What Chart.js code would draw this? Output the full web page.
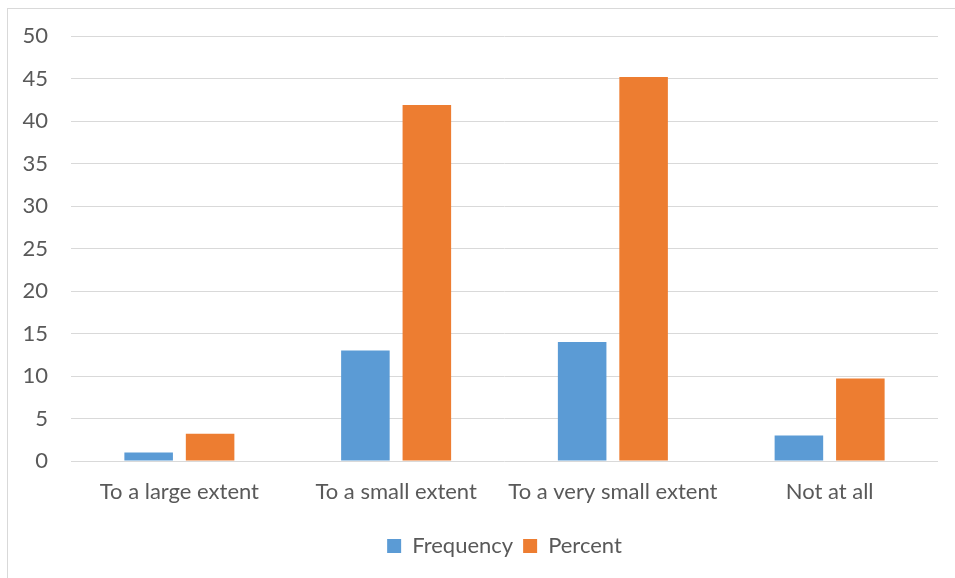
<!DOCTYPE html>
<html>
<head>
<meta charset="utf-8">
<script src="https://cdn.jsdelivr.net/npm/chart.js@4.4.1/dist/chart.umd.min.js"></script>
<style>
  html, body { margin: 0; padding: 0; background: #fff; }
  #wrap { position: absolute; left: 0; top: 0; width: 955px; height: 578px; }
  #frame { position: absolute; left: 7px; top: 8px; width: 960px; height: 580px;
           border-left: 1px solid #d9d9d9; border-top: 1px solid #d9d9d9; }
</style>
</head>
<body>
<div id="frame"></div>
<div id="wrap"><canvas id="chart" width="955" height="578"></canvas></div>
<script>
const categories = ['To a large extent', 'To a small extent', 'To a very small extent', 'Not at all'];
const frequency = [1, 13, 14, 3];
const percent = [3.2, 41.9, 45.2, 9.7];
const yMax = 50;
const yStep = 5;

const textColor = '#595959';
const gridColor = '#d9d9d9';
const font = { family: 'Lato, "Open Sans", sans-serif', size: 22 };

new Chart(document.getElementById('chart'), {
  type: 'bar',
  data: {
    labels: categories,
    datasets: [
      { label: 'Frequency', data: frequency, backgroundColor: '#5b9bd5' },
      { label: 'Percent', data: percent, backgroundColor: '#ed7d31' }
    ]
  },
  options: {
    responsive: false,
    animation: false,
    datasets: { bar: { categoryPercentage: 0.567, barPercentage: 0.79 } },
    layout: { padding: { left: 0, right: 17, top: 31, bottom: 11 } },
    scales: {
      x: {
        grid: { display: false },
        border: { display: false },
        ticks: { color: textColor, font, padding: 10, maxRotation: 0 },
        afterFit(scale) { scale.height = 64; }
      },
      y: {
        min: 0,
        max: yMax,
        grid: { color: gridColor, lineWidth: 1, drawTicks: false },
        border: { display: false },
        ticks: { stepSize: yStep, color: textColor, font, padding: 23 },
        afterFit(scale) { scale.width = 71; }
      }
    },
    plugins: {
      legend: {
        position: 'bottom',
        fullSize: false,
        labels: { color: textColor, font, boxWidth: 14, boxHeight: 14, padding: 10 }
      },
      tooltip: { enabled: false }
    }
  }
});
</script>
</body>
</html>
